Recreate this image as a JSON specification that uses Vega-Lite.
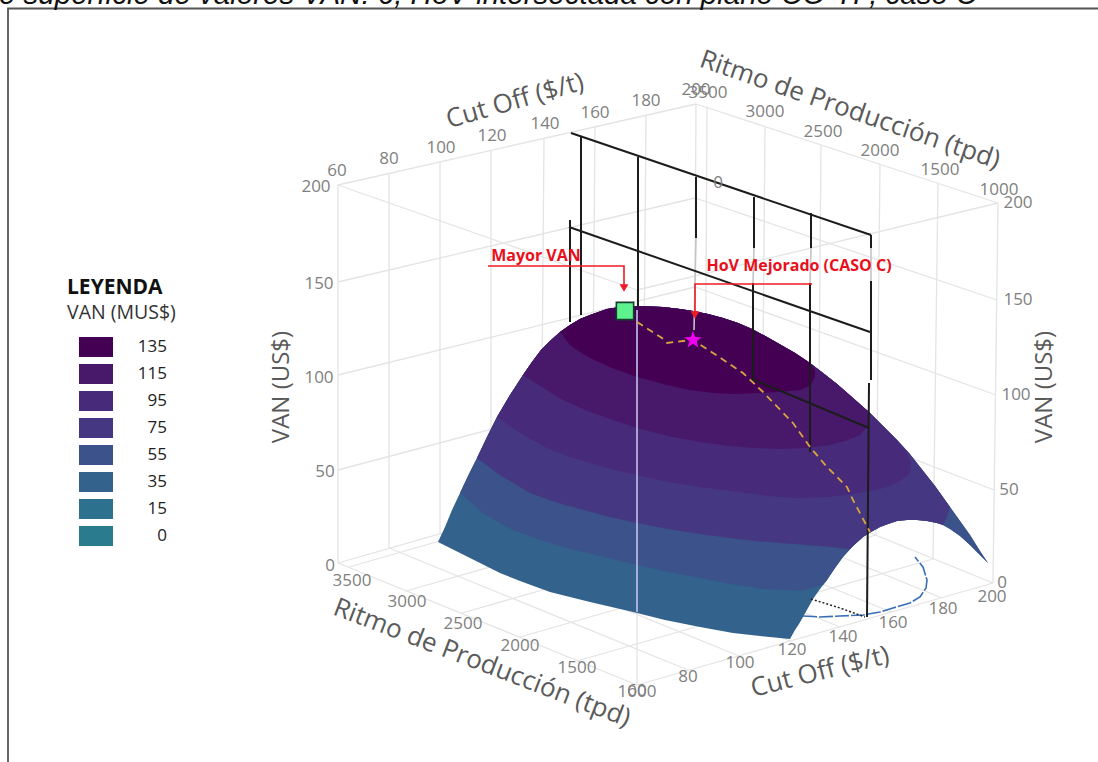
{
"$schema":"https://vega.github.io/schema/vega-lite/v6.json",
"width":1098,"height":762,"padding":0,"autosize":{"type":"none"},
"background":"white",
"config":{"view":{"stroke":null},"text":{"font":"Open Sans"}},
"datasets":{
"frame":[{"s":"f","x":8,"y":762},{"s":"f","x":8,"y":8.5},{"s":"f","x":1098,"y":8.5}],
"grid":[
{"s":"a0","x":338,"y":185},{"s":"a0","x":338,"y":563},{"s":"a1","x":389,"y":173},{"s":"a1","x":389,"y":548},{"s":"a2","x":440,"y":162},{"s":"a2","x":440,"y":534},{"s":"a3","x":491,"y":150},{"s":"a3","x":491,"y":519},{"s":"a4","x":544,"y":138},{"s":"a4","x":541,"y":505},{"s":"a5","x":595,"y":127},{"s":"a5","x":592,"y":490},{"s":"a6","x":646,"y":115},{"s":"a6","x":643,"y":476},{"s":"a7","x":696,"y":104},{"s":"a7","x":694,"y":461},
{"s":"b0","x":707,"y":108},{"s":"b0","x":705,"y":465},{"s":"b1","x":765,"y":127},{"s":"b1","x":762,"y":489},{"s":"b2","x":821,"y":145},{"s":"b2","x":818,"y":511},{"s":"b3","x":880,"y":164},{"s":"b3","x":876,"y":535},{"s":"b4","x":938,"y":183},{"s":"b4","x":933,"y":559},{"s":"b5","x":998,"y":203},{"s":"b5","x":993,"y":583},
{"s":"c0","x":338,"y":185},{"s":"c0","x":696,"y":104},{"s":"c1","x":338,"y":282},{"s":"c1","x":695,"y":198},{"s":"c2","x":338,"y":375},{"s":"c2","x":695,"y":287},{"s":"c3","x":338,"y":470},{"s":"c3","x":695,"y":375},
{"s":"d0","x":696,"y":104},{"s":"d0","x":998,"y":203},{"s":"d1","x":695,"y":198},{"s":"d1","x":997,"y":300},{"s":"d2","x":695,"y":287},{"s":"d2","x":996,"y":395},{"s":"d3","x":695,"y":375},{"s":"d3","x":994,"y":490},
{"s":"e0","x":338,"y":185},{"s":"e0","x":637,"y":290},{"s":"e1","x":637,"y":290},{"s":"e1","x":998,"y":203},{"s":"e2","x":637,"y":290},{"s":"e2","x":637,"y":685},
{"s":"f0","x":349,"y":567},{"s":"f0","x":705,"y":465},{"s":"f1","x":406,"y":591},{"s":"f1","x":762,"y":489},{"s":"f2","x":462,"y":613},{"s":"f2","x":818,"y":511},{"s":"f3","x":520,"y":637},{"s":"f3","x":876,"y":535},{"s":"f4","x":577,"y":661},{"s":"f4","x":933,"y":559},{"s":"f5","x":637,"y":685},{"s":"f5","x":993,"y":583},
{"s":"g0","x":338,"y":563},{"s":"g0","x":637,"y":685},{"s":"g1","x":389,"y":548},{"s":"g1","x":688,"y":670},{"s":"g2","x":440,"y":534},{"s":"g2","x":739,"y":656},{"s":"g3","x":491,"y":519},{"s":"g3","x":790,"y":641},{"s":"g4","x":541,"y":505},{"s":"g4","x":840,"y":627},{"s":"g5","x":592,"y":490},{"s":"g5","x":891,"y":612},{"s":"g6","x":643,"y":476},{"s":"g6","x":942,"y":598},{"s":"g7","x":694,"y":461},{"s":"g7","x":993,"y":583},
{"s":"h0","x":338,"y":563},{"s":"h0","x":694,"y":461}
],
"bands":[
{"van":35,"x":438,"y":542},{"van":35,"x":445,"y":527},{"van":35,"x":452,"y":510},{"van":35,"x":460,"y":493},{"van":35,"x":468,"y":476},{"van":35,"x":477,"y":458},{"van":35,"x":487,"y":437},{"van":35,"x":497,"y":417},{"van":35,"x":510,"y":395},{"van":35,"x":523,"y":375},{"van":35,"x":532,"y":362},{"van":35,"x":541,"y":350},{"van":35,"x":550,"y":341},{"van":35,"x":560,"y":332},{"van":35,"x":570,"y":325},{"van":35,"x":580,"y":319},{"van":35,"x":590,"y":315},{"van":35,"x":607,"y":309},{"van":35,"x":620,"y":307},{"van":35,"x":637,"y":306},{"van":35,"x":663,"y":307},{"van":35,"x":680,"y":309},{"van":35,"x":693,"y":311},{"van":35,"x":708,"y":314},{"van":35,"x":723,"y":318},{"van":35,"x":738,"y":323},{"van":35,"x":752,"y":329},{"van":35,"x":767,"y":337},{"van":35,"x":781,"y":345},{"van":35,"x":795,"y":353},{"van":35,"x":810,"y":363},{"van":35,"x":823,"y":373},{"van":35,"x":837,"y":384},{"van":35,"x":853,"y":398},{"van":35,"x":870,"y":413},{"van":35,"x":884,"y":427},{"van":35,"x":897,"y":440},{"van":35,"x":909,"y":453},{"van":35,"x":920,"y":467},{"van":35,"x":935,"y":486},{"van":35,"x":950,"y":507},{"van":35,"x":960,"y":521},{"van":35,"x":970,"y":535},{"van":35,"x":980,"y":551},{"van":35,"x":988,"y":563},{"van":35,"x":979,"y":554},{"van":35,"x":970,"y":545},{"van":35,"x":960,"y":536},{"van":35,"x":950,"y":529},{"van":35,"x":943,"y":525},{"van":35,"x":937,"y":523},{"van":35,"x":927,"y":521},{"van":35,"x":917,"y":520},{"van":35,"x":907,"y":520},{"van":35,"x":897,"y":521},{"van":35,"x":888,"y":524},{"van":35,"x":880,"y":527},{"van":35,"x":871,"y":532},{"van":35,"x":863,"y":537},{"van":35,"x":853,"y":546},{"van":35,"x":843,"y":557},{"van":35,"x":835,"y":568},{"van":35,"x":827,"y":580},{"van":35,"x":820,"y":589},{"van":35,"x":813,"y":599},{"van":35,"x":808,"y":608},{"van":35,"x":803,"y":617},{"van":35,"x":799,"y":624},{"van":35,"x":795,"y":630},{"van":35,"x":790,"y":639},{"van":35,"x":760,"y":636},{"van":35,"x":733,"y":633},{"van":35,"x":700,"y":627},{"van":35,"x":665,"y":620},{"van":35,"x":633,"y":612},{"van":35,"x":590,"y":602},{"van":35,"x":550,"y":592},{"van":35,"x":520,"y":581},{"van":35,"x":500,"y":573},{"van":35,"x":470,"y":558},
{"van":55,"x":460,"y":493},{"van":55,"x":468,"y":476},{"van":55,"x":477,"y":458},{"van":55,"x":487,"y":437},{"van":55,"x":497,"y":417},{"van":55,"x":510,"y":395},{"van":55,"x":523,"y":375},{"van":55,"x":532,"y":362},{"van":55,"x":541,"y":350},{"van":55,"x":550,"y":341},{"van":55,"x":560,"y":332},{"van":55,"x":570,"y":325},{"van":55,"x":580,"y":319},{"van":55,"x":590,"y":315},{"van":55,"x":607,"y":309},{"van":55,"x":620,"y":307},{"van":55,"x":637,"y":306},{"van":55,"x":663,"y":307},{"van":55,"x":680,"y":309},{"van":55,"x":693,"y":311},{"van":55,"x":708,"y":314},{"van":55,"x":723,"y":318},{"van":55,"x":738,"y":323},{"van":55,"x":752,"y":329},{"van":55,"x":767,"y":337},{"van":55,"x":781,"y":345},{"van":55,"x":795,"y":353},{"van":55,"x":810,"y":363},{"van":55,"x":823,"y":373},{"van":55,"x":837,"y":384},{"van":55,"x":853,"y":398},{"van":55,"x":870,"y":413},{"van":55,"x":884,"y":427},{"van":55,"x":897,"y":440},{"van":55,"x":909,"y":453},{"van":55,"x":920,"y":467},{"van":55,"x":935,"y":486},{"van":55,"x":950,"y":507},{"van":55,"x":960,"y":521},{"van":55,"x":970,"y":535},{"van":55,"x":980,"y":551},{"van":55,"x":988,"y":563},{"van":55,"x":979,"y":554},{"van":55,"x":970,"y":545},{"van":55,"x":960,"y":536},{"van":55,"x":950,"y":529},{"van":55,"x":943,"y":525},{"van":55,"x":937,"y":523},{"van":55,"x":927,"y":521},{"van":55,"x":917,"y":520},{"van":55,"x":907,"y":520},{"van":55,"x":897,"y":521},{"van":55,"x":888,"y":524},{"van":55,"x":880,"y":527},{"van":55,"x":871,"y":532},{"van":55,"x":863,"y":537},{"van":55,"x":853,"y":546},{"van":55,"x":843,"y":557},{"van":55,"x":835,"y":568},{"van":55,"x":827,"y":580},{"van":55,"x":823,"y":585},{"van":55,"x":800,"y":591},{"van":55,"x":763,"y":589},{"van":55,"x":730,"y":584},{"van":55,"x":700,"y":578},{"van":55,"x":668,"y":572},{"van":55,"x":637,"y":565},{"van":55,"x":600,"y":556},{"van":55,"x":570,"y":549},{"van":55,"x":540,"y":540},{"van":55,"x":513,"y":530},{"van":55,"x":485,"y":515},
{"van":75,"x":477,"y":458},{"van":75,"x":487,"y":437},{"van":75,"x":497,"y":417},{"van":75,"x":510,"y":395},{"van":75,"x":523,"y":375},{"van":75,"x":532,"y":362},{"van":75,"x":541,"y":350},{"van":75,"x":550,"y":341},{"van":75,"x":560,"y":332},{"van":75,"x":570,"y":325},{"van":75,"x":580,"y":319},{"van":75,"x":590,"y":315},{"van":75,"x":607,"y":309},{"van":75,"x":620,"y":307},{"van":75,"x":637,"y":306},{"van":75,"x":663,"y":307},{"van":75,"x":680,"y":309},{"van":75,"x":693,"y":311},{"van":75,"x":708,"y":314},{"van":75,"x":723,"y":318},{"van":75,"x":738,"y":323},{"van":75,"x":752,"y":329},{"van":75,"x":767,"y":337},{"van":75,"x":781,"y":345},{"van":75,"x":795,"y":353},{"van":75,"x":810,"y":363},{"van":75,"x":823,"y":373},{"van":75,"x":837,"y":384},{"van":75,"x":853,"y":398},{"van":75,"x":870,"y":413},{"van":75,"x":884,"y":427},{"van":75,"x":897,"y":440},{"van":75,"x":909,"y":453},{"van":75,"x":920,"y":467},{"van":75,"x":935,"y":486},{"van":75,"x":950,"y":507},{"van":75,"x":947,"y":516},{"van":75,"x":943,"y":525},{"van":75,"x":937,"y":523},{"van":75,"x":927,"y":521},{"van":75,"x":917,"y":520},{"van":75,"x":907,"y":520},{"van":75,"x":897,"y":521},{"van":75,"x":888,"y":524},{"van":75,"x":880,"y":527},{"van":75,"x":871,"y":532},{"van":75,"x":863,"y":537},{"van":75,"x":853,"y":546},{"van":75,"x":850,"y":549},{"van":75,"x":820,"y":546},{"van":75,"x":780,"y":543},{"van":75,"x":755,"y":541},{"van":75,"x":730,"y":538},{"van":75,"x":700,"y":534},{"van":75,"x":668,"y":529},{"van":75,"x":637,"y":523},{"van":75,"x":610,"y":517},{"van":75,"x":580,"y":509},{"van":75,"x":555,"y":502},{"van":75,"x":530,"y":493},{"van":75,"x":500,"y":475},
{"van":95,"x":497,"y":417},{"van":95,"x":510,"y":395},{"van":95,"x":523,"y":375},{"van":95,"x":532,"y":362},{"van":95,"x":541,"y":350},{"van":95,"x":550,"y":341},{"van":95,"x":560,"y":332},{"van":95,"x":570,"y":325},{"van":95,"x":580,"y":319},{"van":95,"x":590,"y":315},{"van":95,"x":607,"y":309},{"van":95,"x":620,"y":307},{"van":95,"x":637,"y":306},{"van":95,"x":663,"y":307},{"van":95,"x":680,"y":309},{"van":95,"x":693,"y":311},{"van":95,"x":708,"y":314},{"van":95,"x":723,"y":318},{"van":95,"x":738,"y":323},{"van":95,"x":752,"y":329},{"van":95,"x":767,"y":337},{"van":95,"x":781,"y":345},{"van":95,"x":795,"y":353},{"van":95,"x":810,"y":363},{"van":95,"x":823,"y":373},{"van":95,"x":837,"y":384},{"van":95,"x":853,"y":398},{"van":95,"x":870,"y":413},{"van":95,"x":884,"y":427},{"van":95,"x":897,"y":440},{"van":95,"x":906,"y":451},{"van":95,"x":911,"y":463},{"van":95,"x":910,"y":473},{"van":95,"x":900,"y":481},{"van":95,"x":887,"y":487},{"van":95,"x":870,"y":491},{"van":95,"x":847,"y":495},{"van":95,"x":825,"y":497},{"van":95,"x":797,"y":498},{"van":95,"x":770,"y":496},{"van":95,"x":747,"y":493},{"van":95,"x":700,"y":487},{"van":95,"x":668,"y":482},{"van":95,"x":637,"y":475},{"van":95,"x":615,"y":470},{"van":95,"x":590,"y":463},{"van":95,"x":570,"y":457},{"van":95,"x":547,"y":448},{"van":95,"x":520,"y":433},
{"van":115,"x":523,"y":375},{"van":115,"x":532,"y":362},{"van":115,"x":541,"y":350},{"van":115,"x":550,"y":341},{"van":115,"x":560,"y":332},{"van":115,"x":570,"y":325},{"van":115,"x":580,"y":319},{"van":115,"x":590,"y":315},{"van":115,"x":607,"y":309},{"van":115,"x":620,"y":307},{"van":115,"x":637,"y":306},{"van":115,"x":663,"y":307},{"van":115,"x":680,"y":309},{"van":115,"x":693,"y":311},{"van":115,"x":708,"y":314},{"van":115,"x":723,"y":318},{"van":115,"x":738,"y":323},{"van":115,"x":752,"y":329},{"van":115,"x":767,"y":337},{"van":115,"x":781,"y":345},{"van":115,"x":795,"y":353},{"van":115,"x":810,"y":363},{"van":115,"x":823,"y":373},{"van":115,"x":837,"y":384},{"van":115,"x":853,"y":398},{"van":115,"x":870,"y":413},{"van":115,"x":867,"y":427},{"van":115,"x":860,"y":435},{"van":115,"x":848,"y":440},{"van":115,"x":830,"y":445},{"van":115,"x":805,"y":448},{"van":115,"x":780,"y":449},{"van":115,"x":755,"y":448},{"van":115,"x":730,"y":446},{"van":115,"x":700,"y":442},{"van":115,"x":668,"y":436},{"van":115,"x":637,"y":428},{"van":115,"x":610,"y":419},{"van":115,"x":585,"y":410},{"van":115,"x":563,"y":400},{"van":115,"x":540,"y":386},
{"van":135,"x":560,"y":332},{"van":135,"x":570,"y":325},{"van":135,"x":580,"y":319},{"van":135,"x":590,"y":315},{"van":135,"x":607,"y":309},{"van":135,"x":620,"y":307},{"van":135,"x":637,"y":306},{"van":135,"x":663,"y":307},{"van":135,"x":680,"y":309},{"van":135,"x":693,"y":311},{"van":135,"x":708,"y":314},{"van":135,"x":723,"y":318},{"van":135,"x":738,"y":323},{"van":135,"x":752,"y":329},{"van":135,"x":767,"y":337},{"van":135,"x":781,"y":345},{"van":135,"x":795,"y":353},{"van":135,"x":810,"y":363},{"van":135,"x":815,"y":370},{"van":135,"x":815,"y":377},{"van":135,"x":810,"y":386},{"van":135,"x":800,"y":390},{"van":135,"x":780,"y":392},{"van":135,"x":757,"y":393},{"van":135,"x":735,"y":394},{"van":135,"x":713,"y":393},{"van":135,"x":690,"y":390},{"van":135,"x":667,"y":385},{"van":135,"x":637,"y":377},{"van":135,"x":612,"y":368},{"van":135,"x":590,"y":358},{"van":135,"x":580,"y":352},{"van":135,"x":570,"y":345}
],
"black":[
{"s":"v1","x":570,"y":220},{"s":"v1","x":570,"y":322},
{"s":"v2","x":581,"y":137},{"s":"v2","x":581,"y":315},
{"s":"v3","x":638,"y":157},{"s":"v3","x":638,"y":306},
{"s":"v4","x":696,"y":177},{"s":"v4","x":696,"y":238},
{"s":"v5a","x":754,"y":197},{"s":"v5a","x":754,"y":248},{"s":"v5b","x":753,"y":283},{"s":"v5b","x":753,"y":380},
{"s":"v6a","x":811,"y":213},{"s":"v6a","x":811,"y":248},{"s":"v6b","x":810,"y":283},{"s":"v6b","x":810,"y":452},
{"s":"v7a","x":871,"y":235},{"s":"v7a","x":871,"y":248},{"s":"v7b","x":871,"y":281},{"s":"v7b","x":871,"y":380},
{"s":"v7c","x":869,"y":383},{"s":"v7c","x":867,"y":617},
{"s":"l1","x":571,"y":133},{"s":"l1","x":871,"y":235},
{"s":"l2","x":569,"y":227},{"s":"l2","x":870,"y":332},
{"s":"l3","x":752,"y":379},{"s":"l3","x":869,"y":428}
],
"fade":[
{"s":"w1","x":696,"y":238},{"s":"w1","x":694,"y":330},
{"s":"w2","x":754,"y":248},{"s":"w2","x":753,"y":283},
{"s":"w3","x":811,"y":248},{"s":"w3","x":810,"y":283},
{"s":"w4","x":871,"y":248},{"s":"w4","x":871,"y":281}
],
"front":[{"s":"z","x":637,"y":310},{"s":"z","x":637,"y":612}],
"floorDots":[{"x":811,"y":599},{"x":840,"y":608},{"x":865,"y":617}],
"curve":[{"x":803,"y":616},{"x":820,"y":617},{"x":840,"y":616},{"x":863,"y":615},{"x":880,"y":612},{"x":893,"y":608},{"x":910,"y":603},{"x":920,"y":597},{"x":926,"y":588},{"x":927,"y":580},{"x":923,"y":567},{"x":915,"y":557}],
"path":[{"x":637,"y":322},{"x":662,"y":338},{"x":667,"y":343},{"x":683,"y":341},{"x":693,"y":340},{"x":713,"y":353},{"x":743,"y":373},{"x":763,"y":392},{"x":793,"y":423},{"x":810,"y":447},{"x":827,"y":467},{"x":847,"y":487},{"x":853,"y":500},{"x":870,"y":532}],
"red":[
{"s":"a","x":488,"y":266},{"s":"a","x":624,"y":266},{"s":"a","x":624,"y":288},
{"s":"b","x":812,"y":284},{"s":"b","x":695,"y":284},{"s":"b","x":695,"y":314}
],
"ticks":[
{"t":"60","x":337,"y":171},{"t":"80","x":389,"y":159},{"t":"100","x":441,"y":148},{"t":"120","x":492,"y":136},{"t":"140","x":545,"y":124},{"t":"160","x":595,"y":113},{"t":"180","x":646,"y":101},{"t":"200","x":696,"y":90},
{"t":"3500","x":708,"y":93},{"t":"3000","x":765,"y":112},{"t":"2500","x":823,"y":132},{"t":"2000","x":880,"y":151},{"t":"1500","x":940,"y":170},{"t":"1000","x":999,"y":190},
{"t":"200","x":316,"y":187},{"t":"150","x":319,"y":284},{"t":"100","x":319,"y":378},{"t":"50","x":325,"y":472},{"t":"0","x":330,"y":566},
{"t":"200","x":1018,"y":203},{"t":"150","x":1018,"y":300},{"t":"100","x":1016,"y":395},{"t":"50","x":1009,"y":490},{"t":"0","x":1002,"y":583},
{"t":"3500","x":352,"y":581},{"t":"3000","x":407,"y":602},{"t":"2500","x":463,"y":624},{"t":"2000","x":520,"y":646},{"t":"1500","x":577,"y":668},{"t":"1000","x":637,"y":692},{"t":"60","x":637,"y":691},
{"t":"80","x":688,"y":677},{"t":"100","x":740,"y":663},{"t":"120","x":792,"y":650},{"t":"140","x":843,"y":637},{"t":"160","x":893,"y":623},{"t":"180","x":943,"y":609},{"t":"200","x":992,"y":597},
{"t":"0","x":718,"y":183}
]
},
"encoding":{
"x":{"field":"x","type":"quantitative","scale":{"domain":[0,1098],"nice":false,"zero":false},"axis":null},
"y":{"field":"y","type":"quantitative","scale":{"domain":[762,0],"nice":false,"zero":false},"axis":null}
},
"layer":[
{"data":{"name":"frame"},"mark":{"type":"line","color":"#555555","strokeWidth":1.8},"encoding":{"order":{"value":null}}},
{"data":{"values":[{"t":"e superficie de valores VAN: 6, HoV intersectada con plano CO-TP, caso C","x":-1,"y":4}]},"mark":{"type":"text","align":"left","baseline":"alphabetic","font":"Liberation Sans","fontStyle":"italic","fontSize":29.5,"color":"#111111"},"encoding":{"text":{"field":"t"}}},
{"data":{"name":"grid"},"mark":{"type":"line","color":"#e4e4e4","strokeWidth":1.3},"encoding":{"detail":{"field":"s"},"order":{"value":null}}},
{"data":{"name":"bands"},"mark":{"type":"line","filled":true,"strokeWidth":0},"encoding":{"detail":{"field":"van"},"order":{"value":null},
"color":{"field":"van","type":"ordinal","scale":{"domain":[135,115,95,75,55,35,15,0],"range":["#440154","#48186a","#472a7a","#453781","#3b528b","#33638d","#2c728e","#2a7b8e"]},
"legend":{"orient":"none","legendX":79,"legendY":333.5,"title":null,"padding":0,"symbolType":"M-1,-0.59H1V0.59H-1Z","symbolSize":1156,"symbolStrokeWidth":0,"symbolOpacity":1,"clipHeight":27,"rowPadding":0,"labelAlign":"right","labelOffset":54,"labelFontSize":17,"labelFont":"Open Sans","labelColor":"#222222"}}}},
{"data":{"name":"front"},"mark":{"type":"line","color":"#c5c3e6","strokeWidth":1.6},"encoding":{"order":{"value":null}}},
{"data":{"name":"fade"},"mark":{"type":"line","color":"#c4c4c4","strokeWidth":1.6},"encoding":{"detail":{"field":"s"},"order":{"value":null}}},
{"data":{"name":"curve"},"mark":{"type":"line","color":"#3a6fb5","strokeWidth":1.6,"strokeDash":[14,2]},"encoding":{"order":{"value":null}}},
{"data":{"name":"floorDots"},"mark":{"type":"line","color":"#222222","strokeWidth":1.5,"strokeDash":[2,2]},"encoding":{"order":{"value":null}}},
{"data":{"name":"black"},"mark":{"type":"line","color":"#1c1c1c","strokeWidth":2},"encoding":{"detail":{"field":"s"},"order":{"value":null}}},
{"data":{"name":"path"},"mark":{"type":"line","color":"#d9a441","strokeWidth":1.8,"strokeDash":[7,5]},"encoding":{"order":{"value":null}}},
{"data":{"name":"red"},"mark":{"type":"line","color":"#ee1c25","strokeWidth":1.6},"encoding":{"detail":{"field":"s"},"order":{"value":null}}},
{"data":{"values":[{"x":624,"y":288},{"x":695,"y":315}]},"mark":{"type":"point","shape":"triangle-down","size":80,"filled":true,"color":"#ee1c25","opacity":1}},
{"data":{"values":[{"x":625,"y":311,"k":"Mayor VAN"}]},"mark":{"type":"point","shape":"square","size":300,"filled":true,"fill":"#5ef28f","stroke":"#14402c","strokeWidth":1.6,"opacity":1}},
{"data":{"values":[{"x":693,"y":340,"k":"HoV Mejorado"}]},"mark":{"type":"point","shape":"M0,-1L0.235,-0.324L0.951,-0.309L0.38,0.124L0.588,0.809L0,0.4L-0.588,0.809L-0.38,0.124L-0.951,-0.309L-0.235,-0.324Z","size":340,"filled":true,"color":"#f000f0","opacity":1}},
{"data":{"values":[{"t":"Mayor VAN","x":536,"y":256},{"t":"HoV Mejorado (CASO C)","x":799,"y":266}]},"mark":{"type":"text","fontWeight":"bold","fontSize":16,"color":"#e8101c","align":"center","baseline":"middle"},"encoding":{"text":{"field":"t"}}},
{"data":{"name":"ticks"},"mark":{"type":"text","fontSize":17,"color":"#808080","align":"center","baseline":"middle"},"encoding":{"text":{"field":"t"}}},
{"data":{"values":[{"t":"Cut Off ($/t)","x":515,"y":101}]},"mark":{"type":"text","angle":344,"fontSize":26,"color":"#5a5a5a","align":"center","baseline":"middle"},"encoding":{"text":{"field":"t"}}},
{"data":{"values":[{"t":"Ritmo de Producción (tpd)","x":850,"y":110}]},"mark":{"type":"text","angle":19,"fontSize":26,"color":"#5a5a5a","align":"center","baseline":"middle"},"encoding":{"text":{"field":"t"}}},
{"data":{"values":[{"t":"Ritmo de Producción (tpd)","x":482,"y":663}]},"mark":{"type":"text","angle":21,"fontSize":26,"color":"#5a5a5a","align":"center","baseline":"middle"},"encoding":{"text":{"field":"t"}}},
{"data":{"values":[{"t":"Cut Off ($/t)","x":820,"y":672}]},"mark":{"type":"text","angle":346,"fontSize":26,"color":"#5a5a5a","align":"center","baseline":"middle"},"encoding":{"text":{"field":"t"}}},
{"data":{"values":[{"t":"VAN (US$)","x":282,"y":387},{"t":"VAN (US$)","x":1045,"y":387}]},"mark":{"type":"text","angle":270,"fontSize":24,"color":"#5a5a5a","align":"center","baseline":"middle"},"encoding":{"text":{"field":"t"}}},
{"data":{"values":[{"t":"LEYENDA","x":67,"y":288}]},"mark":{"type":"text","fontWeight":"bold","fontSize":21,"color":"#111111","align":"left","baseline":"middle"},"encoding":{"text":{"field":"t"}}},
{"data":{"values":[{"t":"VAN (MUS$)","x":67,"y":313}]},"mark":{"type":"text","fontSize":19.5,"color":"#333333","align":"left","baseline":"middle"},"encoding":{"text":{"field":"t"}}}
]
}
